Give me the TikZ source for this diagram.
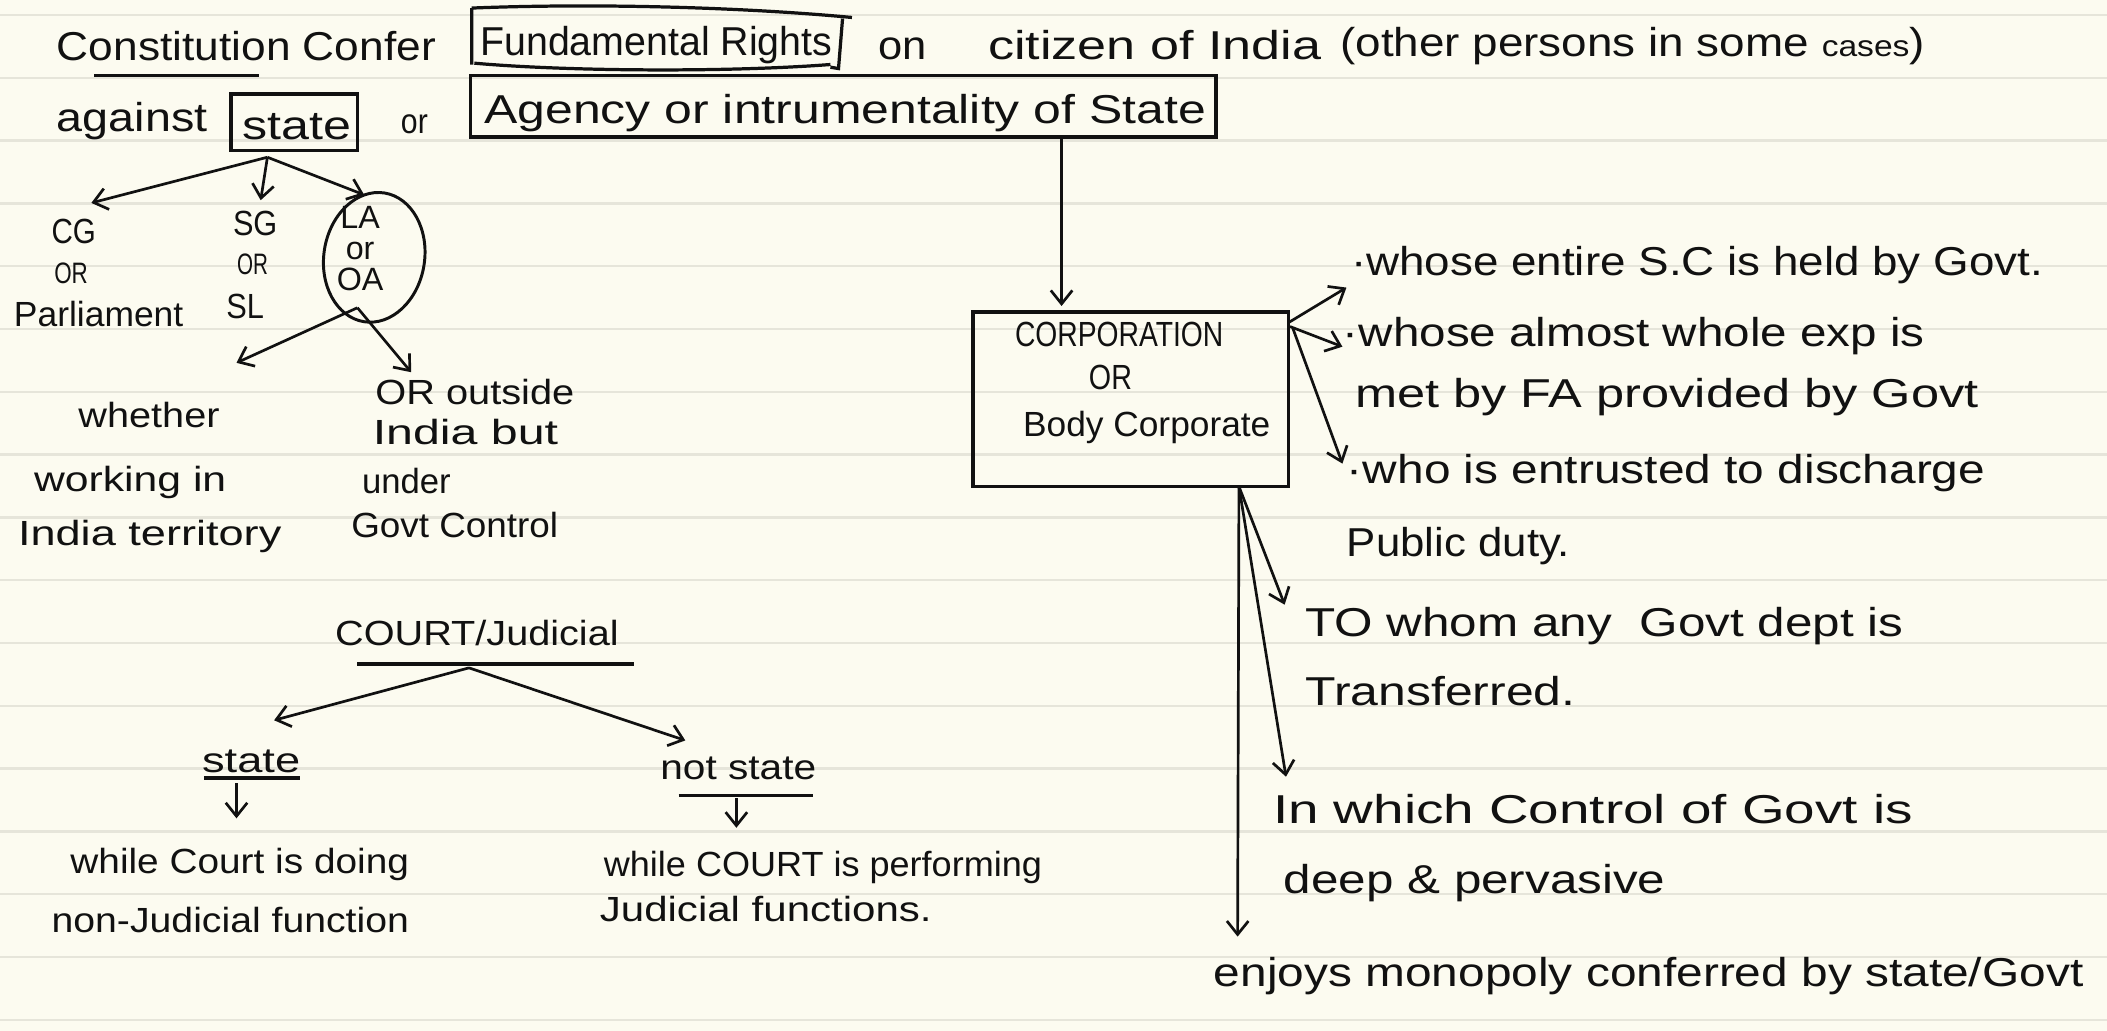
\documentclass[tikz,border=0pt]{standalone}
\usepackage{fontspec}
\setmainfont{Liberation Sans}
\usepackage{graphicx}
\usetikzlibrary{arrows.meta,shapes.geometric,calc}
\definecolor{paper}{HTML}{FCFBF0}
\definecolor{ruling}{HTML}{E6E5DA}
\definecolor{ink}{HTML}{111111}
\newlength\pxu \setlength\pxu{0.5pt}
% set a line of text to a given width (in drawing units), keeping its height
\newcommand\hw[2]{\resizebox{#1\pxu}{\height}{#2}}

\begin{document}
\begin{tikzpicture}[x=0.5pt,y=-0.5pt,
  txt/.style={inner sep=0pt, anchor=base west, text=ink, font=\fontsize{15}{18}\selectfont},
  sm/.style={font=\fontsize{13}{16}\selectfont},
  tiny/.style={font=\fontsize{11}{13}\selectfont},
  arr/.style={draw=ink, line width=1pt, -{Straight Barb[length=5pt,width=8pt]}},
  ln/.style={draw=ink, line width=1.2pt},
  box/.style={draw=ink, line width=1.3pt, rectangle, inner sep=0pt},
]
% ---- lined paper ----
\fill[paper] (0,0) rectangle (1568,767);
\useasboundingbox (0,0) rectangle (1568,767);
\foreach \k in {0,...,16}
  \draw[ruling, line width=0.9pt] (0,{11.2+46.73*\k}) -- (1568,{11.2+46.73*\k});

% ---- first line ----
\node[txt] (t1) at (42,45) {\hw{282}{Constitution Confer}};
\coordinate (u1a) at (70,56);
\coordinate (u1b) at (193,56);
\draw[ln] (u1a) -- (u1b);
\node[txt] (fr) at (357,41) {\hw{262}{Fundamental Rights}};
\draw[ink, line width=1.2pt]
  (351,6) -- (351,48)
  (351,6) .. controls (450,2) and (560,6) .. (634,13)
  (627,14) -- (624,51) -- (618,50)
  (353,47) .. controls (420,53) and (540,54) .. (618,48);
\node[txt] (on) at (653,44) {\hw{36}{on}};
\node[txt] (cit) at (735,44) {\hw{248}{citizen of India}};
\node[txt] (oth) at (997,42) {\hw{435}{(other persons in some {\fontsize{11}{13}\selectfont cases})}};

% ---- second line ----
\node[txt] (ag) at (42,98) {\hw{112}{against}};
\node[box, minimum width=47pt, minimum height=21pt] (statebox) at (219,91) {};
\node[txt] (st) at (180,104) {\hw{81}{state}};
\node[txt, sm] (or1) at (298,99) {\hw{20}{or}};
\node[box, minimum width=277.5pt, minimum height=23pt] (agbox) at (627.5,79) {};
\node[txt] (agt) at (360,92) {\hw{537}{Agency or intrumentality of State}};

% ---- branches of the state ----
\coordinate (sroot) at (199,117);
\coordinate (cgtip) at (68,151);
\coordinate (sgtip) at (194,149);
\coordinate (latip) at (271,145);
\draw[arr] (sroot) -- (cgtip);
\draw[arr] (sroot) -- (sgtip);
\draw[arr] (sroot) -- (latip);

\node[txt, sm] (cg) at (38,181) {\hw{33}{CG}};
\node[txt, tiny] (or2) at (40,211) {\hw{25}{OR}};
\node[txt, sm] (parl) at (10,243) {\hw{126}{Parliament}};
\node[txt, sm] (sg) at (173,175) {\hw{33}{SG}};
\node[txt, tiny] (or3) at (176,204) {\hw{23}{OR}};
\node[txt, sm] (sl) at (168,237) {\hw{28}{SL}};
\node[draw=ink, line width=1.1pt, ellipse, minimum width=37.5pt, minimum height=48.5pt,
      rotate=-9, inner sep=0pt] (laell) at (278.5,191.5) {};
\node[inner sep=0pt, align=center, text=ink, font=\fontsize{12}{11.5}\selectfont] (laoa) at (268,185) {LA\\or\\OA};

\coordinate (laroot) at (266,229);
\coordinate (whtip) at (176,270);
\coordinate (ootip) at (306,277);
\draw[arr] (laroot) -- (whtip);
\draw[arr] (laroot) -- (ootip);

\node[txt, sm] (wh) at (58,318) {\hw{105}{whether}};
\node[txt, sm] (wk) at (25,366) {\hw{143}{working in}};
\node[txt, sm] (it) at (13,406) {\hw{196}{India territory}};
\node[txt, sm] (oo) at (279,301) {\hw{148}{OR outside}};
\node[txt, sm] (ib) at (277,331) {\hw{138}{India but}};
\node[txt, sm] (un) at (269,367) {\hw{66}{under}};
\node[txt, sm] (gc) at (261,400) {\hw{154}{Govt Control}};

% ---- courts ----
\node[txt, sm] (ct) at (249,480) {\hw{211}{COURT/Judicial}};
\coordinate (ctl) at (266,494);
\coordinate (ctr) at (472,494);
\draw[line width=1.6pt, ink] (ctl) -- (ctr);
\coordinate (ctroot) at (349,497);
\coordinate (cstip) at (204,536);
\coordinate (cntip) at (510,551);
\draw[arr] (ctroot) -- (cstip);
\draw[arr] (ctroot) -- (cntip);

\node[txt, sm] (cs) at (150,575) {\hw{73}{state}};
\coordinate (csl) at (152,579);
\coordinate (csr) at (223,579);
\draw[ln] (csl) -- (csr);
\coordinate (csa) at (176,583);
\coordinate (csb) at (176,609);
\draw[arr] (csa) -- (csb);

\node[txt, sm] (cn) at (491,580) {\hw{116}{not state}};
\coordinate (cnl) at (505,592);
\coordinate (cnr) at (605,592);
\draw[ln] (cnl) -- (cnr);
\coordinate (cna) at (548,594);
\coordinate (cnb) at (548,616);
\draw[arr] (cna) -- (cnb);

\node[txt, sm] (w1) at (52,650) {\hw{252}{while Court is doing}};
\node[txt, sm] (w2) at (38,694) {\hw{266}{non-Judicial function}};
\node[txt, sm] (w3) at (449,652) {\hw{326}{while COURT is performing}};
\node[txt, sm] (w4) at (446,686) {\hw{247}{Judicial functions.}};

% ---- corporation ----
\node[box, minimum width=117.5pt, minimum height=65pt] (corp) at (841.5,297) {};
\coordinate (agx) at (790,0);
\draw[arr] (agbox.south -| agx) -- ($(corp.north -| agx)+(0,-3)$);
\node[txt, font=\fontsize{13}{15}\selectfont] (c1) at (755,258) {\hw{155}{CORPORATION}};
\node[txt, font=\fontsize{13}{15}\selectfont] (c2) at (810,290) {\hw{32}{OR}};
\node[txt, font=\fontsize{13}{15}\selectfont] (c3) at (761,325) {\hw{184}{Body Corporate}};

\coordinate (cr1) at (959,240);
\coordinate (cr2) at (960,243);
\coordinate (cr3) at (962,244);
\coordinate (r1tip) at (1002,214);
\coordinate (r2tip) at (999,258);
\coordinate (r3tip) at (999,345);
\draw[arr] (cr1) -- (r1tip);
\draw[arr] (cr2) -- (r2tip);
\draw[arr] (cr3) -- (r3tip);

\coordinate (cb) at (922,362);
\coordinate (r6tip) at (956,450);
\coordinate (r8tip) at (957,578);
\coordinate (r10tip) at (921,697);
\draw[arr] (cb) -- (r6tip);
\draw[arr] (cb) -- (r8tip);
\draw[arr] (cb) -- (r10tip);

\node[txt] (r1) at (1005,205) {\hw{515}{·whose entire S.C is held by Govt.}};
\node[txt] (r2) at (999,258) {\hw{433}{·whose almost whole exp is}};
\node[txt] (r3) at (1008,303) {\hw{464}{met by FA provided by Govt}};
\node[txt] (r4) at (1002,360) {\hw{475}{·who is entrusted to discharge}};
\node[txt] (r5) at (1002,414) {\hw{166}{Public duty.}};
\node[txt] (r6) at (971,474) {\hw{445}{TO whom any \ Govt dept is}};
\node[txt] (r7) at (971,525) {\hw{201}{Transferred.}};
\node[txt] (r8) at (947,613) {\hw{476}{In which Control of Govt is}};
\node[txt] (r9) at (955,665) {\hw{284}{deep \& pervasive}};
\node[txt] (r10) at (903,734) {\hw{647}{enjoys monopoly conferred by state/Govt}};
\end{tikzpicture}
\end{document}
